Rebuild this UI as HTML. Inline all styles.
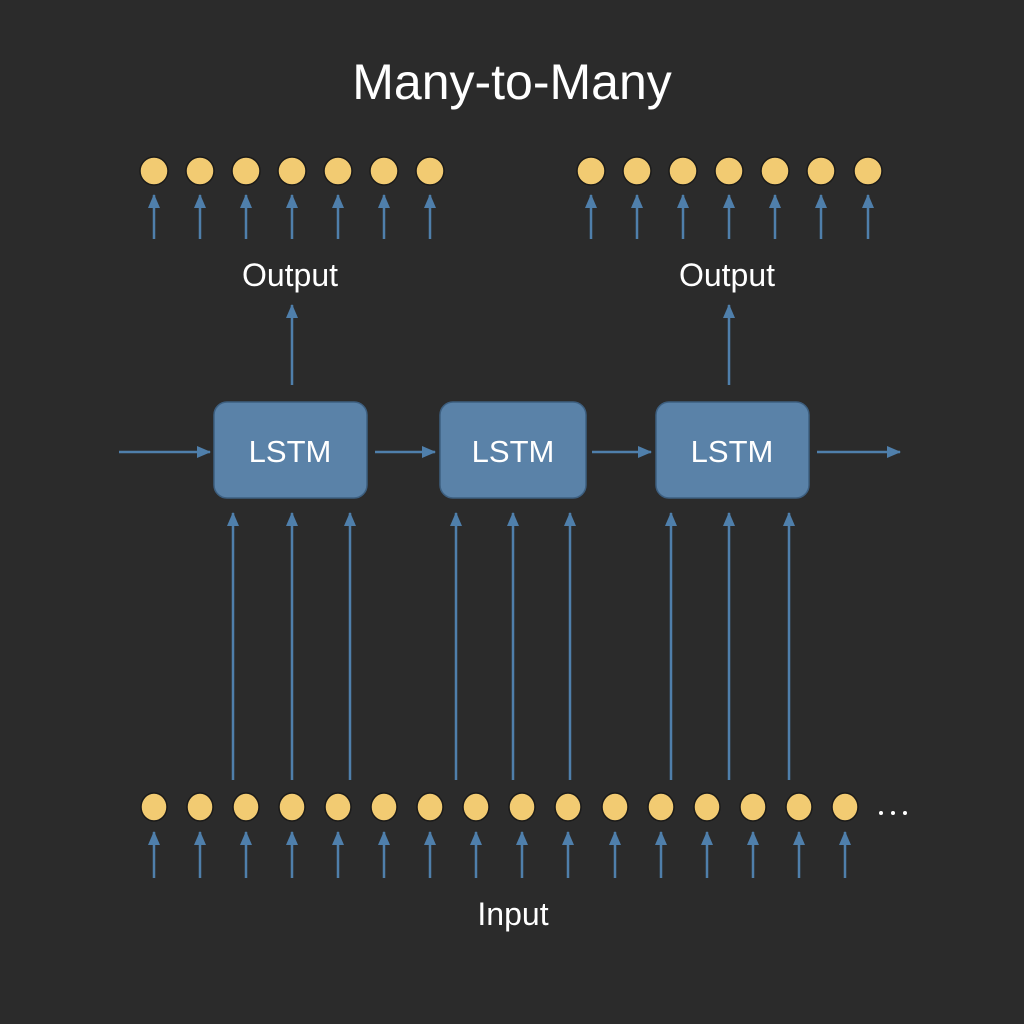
<!DOCTYPE html>
<html><head><style>body{margin:0;background:#2b2b2b}svg{display:block}</style></head><body>
<svg width="1024" height="1024" xmlns="http://www.w3.org/2000/svg" font-family="Liberation Sans, sans-serif">
<defs><marker id="a" markerWidth="14" markerHeight="12" refX="13" refY="6" orient="auto" markerUnits="userSpaceOnUse"><path d="M0,0 L14,6 L0,12 Z" fill="#4f7fab"/></marker>
<marker id="h" markerWidth="14" markerHeight="12" refX="13" refY="6" orient="auto" markerUnits="userSpaceOnUse"><path d="M0,0 L14,6 L0,12 Z" fill="#4f7fab"/></marker></defs>
<rect width="1024" height="1024" fill="#2b2b2b"/>
<text x="512" y="99" font-size="50" fill="#fff" text-anchor="middle">Many-to-Many</text>
<g fill="#f2cb72" stroke="#1a1a1a" stroke-width="1.5">
<circle cx="154" cy="171" r="14"/><circle cx="200" cy="171" r="14"/><circle cx="246" cy="171" r="14"/><circle cx="292" cy="171" r="14"/><circle cx="338" cy="171" r="14"/><circle cx="384" cy="171" r="14"/><circle cx="430" cy="171" r="14"/>
<circle cx="591" cy="171" r="14"/><circle cx="637" cy="171" r="14"/><circle cx="683" cy="171" r="14"/><circle cx="729" cy="171" r="14"/><circle cx="775" cy="171" r="14"/><circle cx="821" cy="171" r="14"/><circle cx="868" cy="171" r="14"/>
</g>
<g stroke="#4f7fab" stroke-width="2.5" marker-end="url(#a)">
<line x1="154" y1="239" x2="154" y2="195"/><line x1="200" y1="239" x2="200" y2="195"/><line x1="246" y1="239" x2="246" y2="195"/><line x1="292" y1="239" x2="292" y2="195"/><line x1="338" y1="239" x2="338" y2="195"/><line x1="384" y1="239" x2="384" y2="195"/><line x1="430" y1="239" x2="430" y2="195"/>
<line x1="591" y1="239" x2="591" y2="195"/><line x1="637" y1="239" x2="637" y2="195"/><line x1="683" y1="239" x2="683" y2="195"/><line x1="729" y1="239" x2="729" y2="195"/><line x1="775" y1="239" x2="775" y2="195"/><line x1="821" y1="239" x2="821" y2="195"/><line x1="868" y1="239" x2="868" y2="195"/>
<line x1="292" y1="385" x2="292" y2="305"/><line x1="729" y1="385" x2="729" y2="305"/>
<line x1="233" y1="780" x2="233" y2="513"/><line x1="292" y1="780" x2="292" y2="513"/><line x1="350" y1="780" x2="350" y2="513"/>
<line x1="456" y1="780" x2="456" y2="513"/><line x1="513" y1="780" x2="513" y2="513"/><line x1="570" y1="780" x2="570" y2="513"/>
<line x1="671" y1="780" x2="671" y2="513"/><line x1="729" y1="780" x2="729" y2="513"/><line x1="789" y1="780" x2="789" y2="513"/>
</g>
<g stroke="#4f7fab" stroke-width="2.5" marker-end="url(#h)">
<line x1="119" y1="452" x2="210" y2="452"/><line x1="375" y1="452" x2="435" y2="452"/><line x1="592" y1="452" x2="651" y2="452"/><line x1="817" y1="452" x2="900" y2="452"/>
</g>
<text x="290" y="286" font-size="32" fill="#fff" text-anchor="middle">Output</text>
<text x="727" y="286" font-size="32" fill="#fff" text-anchor="middle">Output</text>
<g fill="#5a82a8" stroke="#3d5f80" stroke-width="1.5">
<rect x="214" y="402" width="153" height="96" rx="13"/><rect x="440" y="402" width="146" height="96" rx="13"/><rect x="656" y="402" width="153" height="96" rx="13"/>
</g>
<g font-size="31" fill="#fff" text-anchor="middle">
<text x="290" y="462">LSTM</text><text x="513" y="462">LSTM</text><text x="732" y="462">LSTM</text>
</g>
<g fill="#f2cb72" stroke="#1a1a1a" stroke-width="1.5">
<ellipse cx="154" cy="807" rx="13" ry="14"/><ellipse cx="200" cy="807" rx="13" ry="14"/><ellipse cx="246" cy="807" rx="13" ry="14"/><ellipse cx="292" cy="807" rx="13" ry="14"/><ellipse cx="338" cy="807" rx="13" ry="14"/><ellipse cx="384" cy="807" rx="13" ry="14"/><ellipse cx="430" cy="807" rx="13" ry="14"/><ellipse cx="476" cy="807" rx="13" ry="14"/><ellipse cx="522" cy="807" rx="13" ry="14"/><ellipse cx="568" cy="807" rx="13" ry="14"/><ellipse cx="615" cy="807" rx="13" ry="14"/><ellipse cx="661" cy="807" rx="13" ry="14"/><ellipse cx="707" cy="807" rx="13" ry="14"/><ellipse cx="753" cy="807" rx="13" ry="14"/><ellipse cx="799" cy="807" rx="13" ry="14"/><ellipse cx="845" cy="807" rx="13" ry="14"/>
</g>
<g fill="#fff"><circle cx="881" cy="813" r="2"/><circle cx="893" cy="813" r="2"/><circle cx="905" cy="813" r="2"/></g>
<g stroke="#4f7fab" stroke-width="2.5" marker-end="url(#a)">
<line x1="154" y1="878" x2="154" y2="832"/><line x1="200" y1="878" x2="200" y2="832"/><line x1="246" y1="878" x2="246" y2="832"/><line x1="292" y1="878" x2="292" y2="832"/><line x1="338" y1="878" x2="338" y2="832"/><line x1="384" y1="878" x2="384" y2="832"/><line x1="430" y1="878" x2="430" y2="832"/><line x1="476" y1="878" x2="476" y2="832"/><line x1="522" y1="878" x2="522" y2="832"/><line x1="568" y1="878" x2="568" y2="832"/><line x1="615" y1="878" x2="615" y2="832"/><line x1="661" y1="878" x2="661" y2="832"/><line x1="707" y1="878" x2="707" y2="832"/><line x1="753" y1="878" x2="753" y2="832"/><line x1="799" y1="878" x2="799" y2="832"/><line x1="845" y1="878" x2="845" y2="832"/>
</g>
<text x="513" y="925" font-size="32" fill="#fff" text-anchor="middle">Input</text>
</svg>
</body></html>
